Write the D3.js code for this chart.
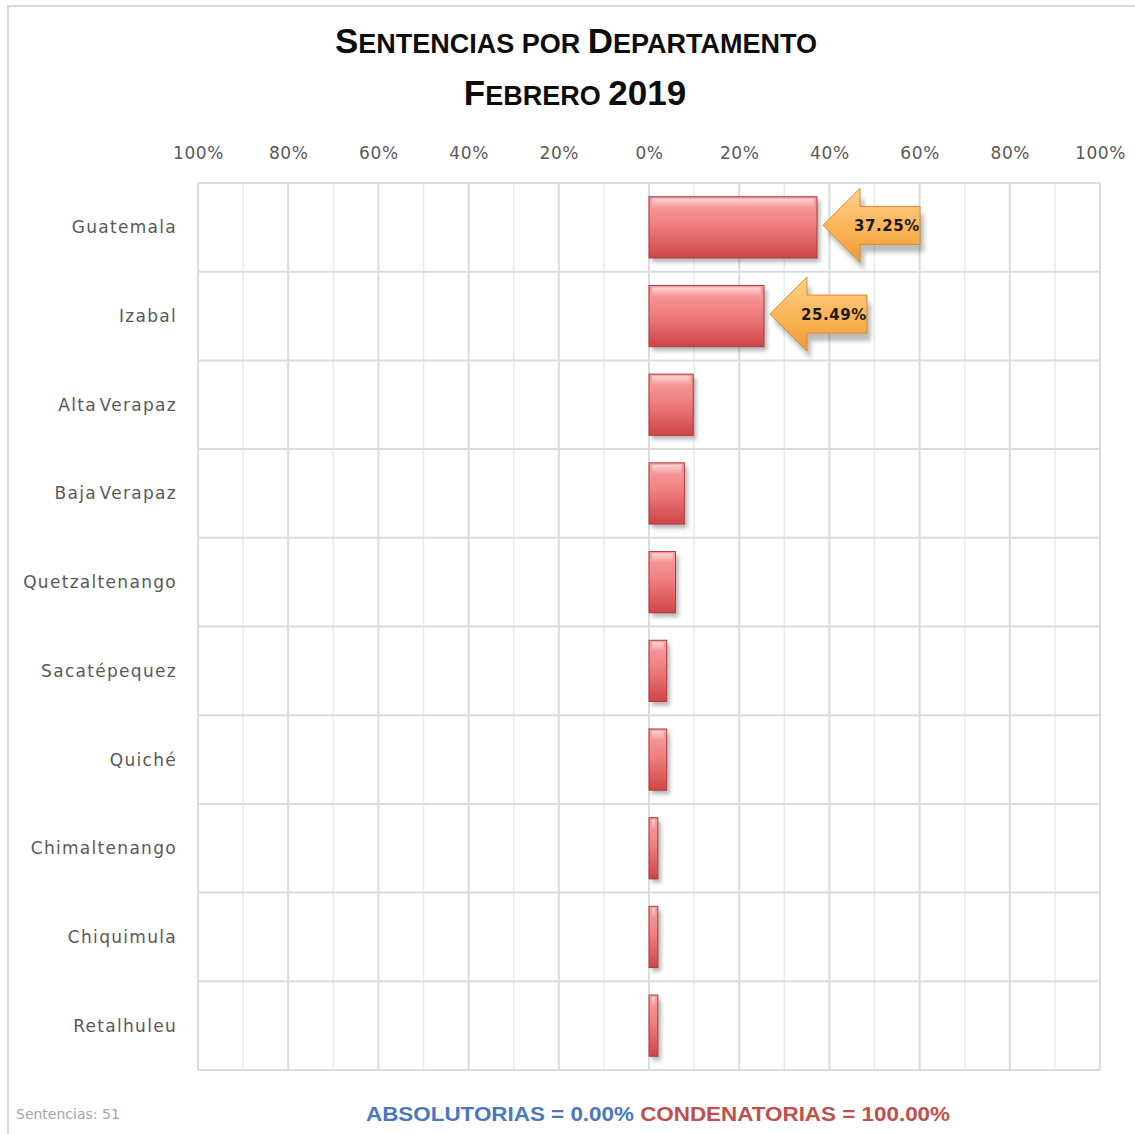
<!DOCTYPE html>
<html>
<head>
<meta charset="utf-8">
<script src="https://cdn.jsdelivr.net/npm/d3@7"></script>
<style>
  html, body { margin: 0; padding: 0; background: #fff; }
  svg { display: block; }
</style>
</head>
<body>
<svg id="chart" width="1135" height="1134"></svg>
<script>
// data
const departamentos = ["Guatemala", "Izabal", "Alta Verapaz", "Baja Verapaz", "Quetzaltenango",
  "Sacatépequez", "Quiché", "Chimaltenango", "Chiquimula", "Retalhuleu"];
const condenatorias = [0.3725, 0.2549, 0.0980, 0.0784, 0.0588, 0.0392, 0.0392, 0.0196, 0.0196, 0.0196];
const absolutorias = [0, 0, 0, 0, 0, 0, 0, 0, 0, 0];
const callouts = ["37.25%", "25.49%", null, null, null, null, null, null, null, null];
const ticks = [-1, -0.8, -0.6, -0.4, -0.2, 0, 0.2, 0.4, 0.6, 0.8, 1];
const totalSentencias = 51;

const width = 1135, height = 1134;
const plot = { left: 198, right: 1100, top: 183, bottom: 1070 };

const svg = d3.select("#chart");
const defs = svg.append("defs");

// bar gradient
const bg = defs.append("linearGradient").attr("id", "barGrad").attr("x1", 0).attr("y1", 0).attr("x2", 0).attr("y2", 1);
bg.append("stop").attr("offset", "0%").attr("stop-color", "#f7a3a3");
bg.append("stop").attr("offset", "45%").attr("stop-color", "#ef7f80");
bg.append("stop").attr("offset", "100%").attr("stop-color", "#cf4546");

const hl = defs.append("linearGradient").attr("id", "hlGrad").attr("x1", 0).attr("y1", 0).attr("x2", 0).attr("y2", 1);
hl.append("stop").attr("offset", "0%").attr("stop-color", "#fff").attr("stop-opacity", 0.55);
hl.append("stop").attr("offset", "100%").attr("stop-color", "#fff").attr("stop-opacity", 0);

const ag = defs.append("linearGradient").attr("id", "arrowGrad").attr("x1", 0).attr("y1", 0).attr("x2", 0).attr("y2", 1);
ag.append("stop").attr("offset", "0%").attr("stop-color", "#ffd08a");
ag.append("stop").attr("offset", "55%").attr("stop-color", "#fbb457");
ag.append("stop").attr("offset", "100%").attr("stop-color", "#ec9a35");

const blur = defs.append("filter").attr("id", "shadow").attr("x", "-20%").attr("y", "-20%").attr("width", "150%").attr("height", "150%");
blur.append("feGaussianBlur").attr("stdDeviation", 2);

// outer frame
svg.append("rect")
  .attr("x", 8).attr("y", 6).attr("width", width).attr("height", height)
  .attr("fill", "none").attr("stroke", "#d9d9d9").attr("stroke-width", 2);

const x = d3.scaleLinear().domain([-1, 1]).range([plot.left, plot.right]);
const y = d3.scaleBand().domain(departamentos).range([plot.top, plot.bottom]).paddingInner(0.31).paddingOuter(0.155);
const band = d3.scaleBand().domain(departamentos).range([plot.top, plot.bottom]);

// minor vertical grid (every 10%)
const minor = d3.range(-9, 10, 2).map(d => d / 10);
svg.append("g").selectAll("line").data(minor).join("line")
  .attr("x1", d => x(d)).attr("x2", d => x(d))
  .attr("y1", plot.top).attr("y2", plot.bottom)
  .attr("stroke", "#ebebeb").attr("stroke-width", 1.5);

// major vertical grid
svg.append("g").selectAll("line").data(ticks).join("line")
  .attr("x1", d => x(d)).attr("x2", d => x(d))
  .attr("y1", plot.top).attr("y2", plot.bottom)
  .attr("stroke", "#dcdcdc").attr("stroke-width", 2);

// horizontal category separators
const seps = departamentos.map(d => band(d)).concat([plot.bottom]);
svg.append("g").selectAll("line").data(seps).join("line")
  .attr("x1", plot.left).attr("x2", plot.right)
  .attr("y1", d => d).attr("y2", d => d)
  .attr("stroke", "#dcdcdc").attr("stroke-width", 2);

// top axis
const axis = d3.axisTop(x).tickValues(ticks).tickSize(0).tickPadding(0)
  .tickFormat(d => d3.format(".0%")(Math.abs(d)));
const ax = svg.append("g").attr("transform", `translate(0,${plot.top - 24})`).call(axis);
ax.select(".domain").remove();
ax.selectAll("text")
  .attr("font-family", "DejaVu Sans").attr("font-size", 17).attr("letter-spacing", 0.6)
  .attr("fill", "#595959");

// category labels
svg.append("g").selectAll("text").data(departamentos).join("text")
  .attr("x", 177).attr("y", d => band(d) + band.bandwidth() / 2 + 6)
  .attr("text-anchor", "end")
  .attr("font-family", "DejaVu Sans").attr("font-size", 17).attr("letter-spacing", 1.3)
  .attr("word-spacing", -4)
  .attr("fill", "#595959")
  .text(d => d);

// bars (condenatorias to the right, absolutorias to the left)
const rows = departamentos.map((d, i) => ({ name: d, c: condenatorias[i], a: absolutorias[i], label: callouts[i] }));
const bars = svg.append("g").selectAll("g").data(rows).join("g");

bars.append("rect")
  .attr("x", d => x(0) + 3).attr("y", d => y(d.name) + 4)
  .attr("width", d => x(d.c) - x(0)).attr("height", y.bandwidth())
  .attr("fill", "#555").attr("opacity", 0.45).attr("filter", "url(#shadow)");

bars.append("rect")
  .attr("x", x(0)).attr("y", d => y(d.name))
  .attr("width", d => x(d.c) - x(0)).attr("height", y.bandwidth())
  .attr("fill", "url(#barGrad)").attr("stroke", "#b23a3b").attr("stroke-width", 1);

bars.append("rect")
  .attr("x", x(0) + 3).attr("y", d => y(d.name) + 2)
  .attr("width", d => Math.max(0, x(d.c) - x(0) - 6)).attr("height", 9)
  .attr("fill", "url(#hlGrad)");

bars.append("rect")
  .attr("x", d => x(-d.a)).attr("y", d => y(d.name))
  .attr("width", d => x(0) - x(-d.a)).attr("height", y.bandwidth())
  .attr("fill", "#4f81bd");

// callout arrows
const arrow = (tip, cy) => {
  const head = 37, hh = 37, body = 60, bh = 19;
  return `M${tip},${cy} L${tip + head},${cy - hh} L${tip + head},${cy - bh} L${tip + head + body},${cy - bh}
    L${tip + head + body},${cy + bh} L${tip + head},${cy + bh} L${tip + head},${cy + hh} Z`;
};
const calls = bars.filter(d => d.label);
calls.append("path")
  .attr("d", d => arrow(x(d.c) + 8, y(d.name) + y.bandwidth() / 2 + 4))
  .attr("fill", "#444").attr("opacity", 0.35).attr("filter", "url(#shadow)")
  .attr("transform", "translate(2,2)");
calls.append("path")
  .attr("d", d => arrow(x(d.c) + 6, y(d.name) + y.bandwidth() / 2 - 2))
  .attr("fill", "url(#arrowGrad)").attr("stroke", "#d98a2c").attr("stroke-width", 1);
calls.append("text")
  .attr("x", d => x(d.c) + 6 + 97).attr("y", d => y(d.name) + y.bandwidth() / 2 + 4)
  .attr("text-anchor", "end")
  .attr("font-family", "DejaVu Sans").attr("font-weight", "bold").attr("font-size", 15).attr("letter-spacing", 0.6)
  .attr("fill", "#1a1a1a")
  .text(d => d.label);

// title in small caps
const smallCaps = (el, str, big, small) => {
  str.split(" ").forEach((word, wi) => {
    if (wi > 0) el.append("tspan").attr("font-size", small).text(" ");
    const first = word[0];
    const rest = word.slice(1);
    if (/[0-9]/.test(first)) {
      el.append("tspan").attr("font-size", big).text(word);
    } else if (first === first.toLowerCase()) {
      el.append("tspan").attr("font-size", small).text(word.toUpperCase());
    } else {
      el.append("tspan").attr("font-size", big).text(first);
      if (rest) el.append("tspan").attr("font-size", small).text(rest.toUpperCase());
    }
  });
};
const t1 = svg.append("text").attr("text-anchor", "middle")
  .attr("font-family", "Liberation Sans").attr("font-weight", "bold").attr("fill", "#0d0d0d")
  .attr("x", 576).attr("y", 53);
smallCaps(t1, "Sentencias por Departamento", 35, 27);
const t2 = svg.append("text").attr("text-anchor", "middle")
  .attr("font-family", "Liberation Sans").attr("font-weight", "bold").attr("fill", "#0d0d0d")
  .attr("x", 575).attr("y", 105);
smallCaps(t2, "Febrero 2019", 35, 27);

// footer
svg.append("text").attr("x", 16).attr("y", 1119)
  .attr("font-family", "DejaVu Sans").attr("font-size", 14).attr("fill", "#a6a6a6")
  .text(`Sentencias: ${totalSentencias}`);

const absTot = d3.sum(absolutorias), conTot = d3.sum(condenatorias);
const foot = svg.append("text").attr("x", 366).attr("y", 1121)
  .attr("font-family", "Liberation Sans").attr("font-weight", "bold").attr("font-size", 21)
  .attr("textLength", 584).attr("lengthAdjust", "spacingAndGlyphs");
foot.append("tspan").attr("fill", "#4a78bd").text(`ABSOLUTORIAS  = ${d3.format(".2%")(absTot / (absTot + conTot))}`);
foot.append("tspan").attr("fill", "#c0504d").text(` CONDENATORIAS  = ${d3.format(".2%")(conTot / (absTot + conTot))}`);
</script>
</body>
</html>
